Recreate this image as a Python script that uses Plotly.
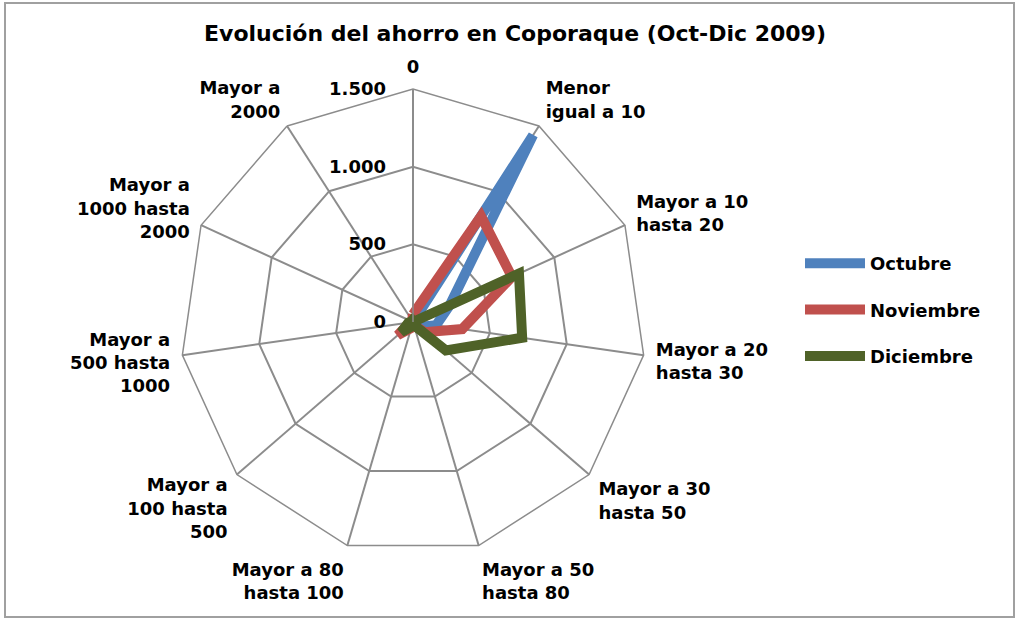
import plotly.graph_objects as go

categories = ["0", "Menor<br>igual a 10", "Mayor a 10<br>hasta 20", "Mayor a 20<br>hasta 30",
              "Mayor a 30<br>hasta 50", "Mayor a 50<br>hasta 80", "Mayor a 80<br>hasta 100",
              "Mayor a<br>100 hasta<br>500", "Mayor a<br>500 hasta<br>1000",
              "Mayor a<br>1000 hasta<br>2000", "Mayor a<br>2000"]
series_names = ["Octubre", "Noviembre", "Diciembre"]
octubre = [0, 1430, 260, 150, 50, 10, 10, 30, 10, 0, 0]
noviembre = [50, 810, 700, 320, 100, 20, 40, 130, 20, 10, 10]
diciembre = [0, 0, 750, 710, 280, 20, 30, 100, 30, 10, 10]
colors = ["#4F81BD", "#C0504D", "#4F6228"]
radial_ticks = [0, 500, 1000, 1500]
radial_labels = ["0", "500", "1.000", "1.500"]

FONT = "DejaVu Sans"
W, H = 1017, 619
cx, cy, R = 413, 322, 233

fig = go.Figure()
for name, vals, col in zip(series_names, [octubre, noviembre, diciembre], colors):
    fig.add_trace(go.Scatterpolar(
        r=vals + [vals[0]], theta=categories + [categories[0]], mode="lines", name=name,
        line=dict(color=col, width=10), legendgroup=name, hoverinfo="skip"))

fig.update_layout(
    width=W, height=H, margin=dict(l=0, r=0, t=0, b=0),
    paper_bgcolor="white", plot_bgcolor="white",
    font=dict(family=FONT, size=18, color="black", weight="bold"),
    title=dict(text="Evolución del ahorro en Coporaque (Oct-Dic 2009)", x=515 / W, xanchor="center",
               y=1 - 33 / H, yanchor="middle", font=dict(size=22, family=FONT, weight="bold")),
    polar=dict(
        domain=dict(x=[(cx - R) / W, (cx + R) / W], y=[(H - cy - R) / H, (H - cy + R) / H]),
        gridshape="linear", bgcolor="white",
        angularaxis=dict(direction="clockwise", rotation=90, showline=True, linecolor="#8c8c8c",
                         linewidth=1.5, gridcolor="#8c8c8c", gridwidth=1.5,
                         ticks="outside", ticklen=8, tickcolor="rgba(0,0,0,0)",
                         tickfont=dict(size=18, family=FONT, weight="bold")),
        radialaxis=dict(range=[0, 1500], tickvals=radial_ticks, ticktext=radial_labels, angle=90,
                        tickangle=90, side="counterclockwise", showline=True, linecolor="#8c8c8c",
                        linewidth=1.5, gridcolor="#8c8c8c", gridwidth=1.5,
                        ticks="outside", ticklen=20, tickcolor="rgba(0,0,0,0)",
                        tickfont=dict(size=18, family=FONT, weight="bold")),
    ),
    legend=dict(x=800 / W, y=1 - 245 / H, xanchor="left", yanchor="top", tracegroupgap=20,
                itemwidth=60, font=dict(size=18, family=FONT, weight="bold"), bgcolor="rgba(0,0,0,0)"),
    shapes=[dict(type="rect", xref="paper", yref="paper", x0=5 / W, x1=1014 / W, y0=2 / H, y1=1 - 3 / H,
                 line=dict(color="#a0a0a0", width=2))],
)

fig.write_html("out.html", config={"displayModeBar": False},
               post_script="document.body.style.margin='0';")
